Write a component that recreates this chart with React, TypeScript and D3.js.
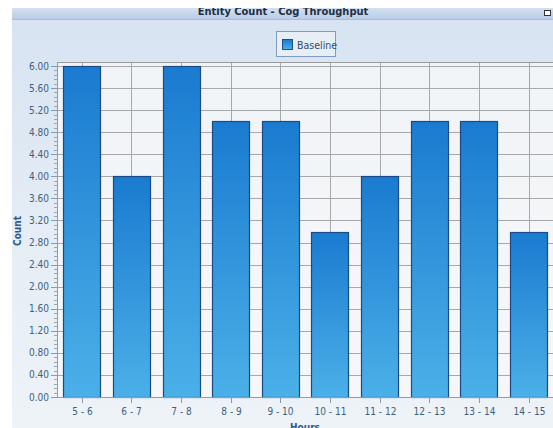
import React from "react";
import * as d3 from "d3";

const categories = ["5 - 6", "6 - 7", "7 - 8", "8 - 9", "9 - 10", "10 - 11", "11 - 12", "12 - 13", "13 - 14", "14 - 15"];
const baseline = [6, 4, 6, 5, 5, 3, 4, 5, 5, 3];
const yTicks = d3.range(0, 16).map((i) => +(i * 0.4).toFixed(2));
const yMinorTicks = d3.range(0, 76).map((i) => +(i * 0.08).toFixed(2));
const title = "Entity Count - Cog Throughput";
const seriesName = "Baseline";
const xTitle = "Hours";
const yTitle = "Count";

const W = 553, H = 428;
const plotL = 57, plotR = 553, plotB = 397;

export default function App() {
  const x = d3.scaleBand<string>().domain(categories).range([plotL, plotR + 0.5]).paddingInner(0.25).paddingOuter(0.125);
  const y = d3.scaleLinear().domain([0, 6]).range([plotB, 66]);
  const plotT = y(6) - 4;
  const font = "Tahoma, 'DejaVu Sans Condensed', 'DejaVu Sans', sans-serif";
  const labelColor = "#3d5f80";
  return (
    <svg width={W} height={H} style={{ position: "absolute", left: 0, top: 0, display: "block" }} fontFamily={font}>
      <defs>
        <linearGradient id="barG" x1="0" y1="0" x2="0" y2="1">
          <stop offset="0" stopColor="#1a7bd0" />
          <stop offset="1" stopColor="#4bb0e8" />
        </linearGradient>
        <linearGradient id="panelG" x1="0" y1="0" x2="0" y2="1">
          <stop offset="0" stopColor="#d6e3f2" />
          <stop offset="0.5" stopColor="#e4ecf5" />
          <stop offset="1" stopColor="#eef3f8" />
        </linearGradient>
        <linearGradient id="titleG" x1="0" y1="0" x2="0" y2="1">
          <stop offset="0" stopColor="#d3e0ef" />
          <stop offset="1" stopColor="#b9cde4" />
        </linearGradient>
        <linearGradient id="plotG" x1="0" y1="0" x2="0" y2="1">
          <stop offset="0" stopColor="#f1f4f7" />
          <stop offset="1" stopColor="#f6f7f9" />
        </linearGradient>
        <clipPath id="titleClip">
          <rect x={12} y={8} width={W - 12} height={11} />
        </clipPath>
      </defs>
      <rect x={0} y={0} width={W} height={H} fill="#ffffff" />
      <rect x={12} y={8} width={W - 12} height={H - 8} fill="url(#panelG)" />
      <rect x={12} y={8} width={W - 12} height={11} fill="url(#titleG)" />
      <line x1={12} x2={W} y1={19.5} y2={19.5} stroke="#a9bfd9" />
      <g clipPath="url(#titleClip)">
        <text x={283} y={15} textAnchor="middle" fontWeight="bold" fontSize={11} fill="#1f2f44">{title}</text>
      </g>
      <rect x={544.5} y={10.5} width={6} height={5} fill="#ffffff" stroke="#333" strokeWidth={1} />

      {/* legend */}
      <rect x={276.5} y={31.5} width={59} height={25} fill="#e7eef6" stroke="#7f9bbd" />
      <rect x={282.5} y={39.5} width={10} height={10} fill="url(#barG)" stroke="#1d4f8e" />
      <text x={297} y={48.5} fontSize={10.5} fill="#2c4d70">{seriesName}</text>

      {/* plot area */}
      <rect x={plotL} y={plotT} width={plotR - plotL} height={plotB - plotT} fill="url(#plotG)" />
      {yTicks.map((t) => (
        <line key={"g" + t} x1={plotL} x2={plotR} y1={Math.round(y(t)) + 0.5} y2={Math.round(y(t)) + 0.5} stroke="#a8a8a8" strokeWidth={1} />
      ))}
      {categories.map((c) => {
        const cx = Math.round(x(c)! + x.bandwidth() / 2) + 0.5;
        return <line key={"v" + c} x1={cx} x2={cx} y1={plotT} y2={plotB} stroke="#a8a8a8" strokeWidth={1} />;
      })}
      <line x1={plotL + 0.5} x2={plotL + 0.5} y1={plotT} y2={plotB} stroke="#9a9a9a" />
      <line x1={plotL} x2={plotR} y1={plotT + 0.5} y2={plotT + 0.5} stroke="#9a9a9a" />

      {/* bars */}
      {categories.map((c, i) => (
        <rect key={"b" + c} x={Math.round(x(c)!) + 0.5} y={Math.round(y(baseline[i])) + 0.5}
          width={Math.round(x.bandwidth())} height={Math.round(y(0)) - Math.round(y(baseline[i]))}
          fill="url(#barG)" stroke="#1b4a86" strokeWidth={1.2} />
      ))}
      <line x1={plotL} x2={plotR} y1={plotB + 0.5} y2={plotB + 0.5} stroke="#9a9a9a" />

      {/* y axis */}
      {yMinorTicks.map((t) => (
        <line key={"m" + t} x1={plotL - 3} x2={plotL} y1={Math.round(y(t)) + 0.5} y2={Math.round(y(t)) + 0.5} stroke="#9aa6b4" />
      ))}
      {yTicks.map((t) => (
        <g key={"yt" + t}>
          <line x1={plotL - 6} x2={plotL} y1={Math.round(y(t)) + 0.5} y2={Math.round(y(t)) + 0.5} stroke="#8c99a8" />
          <text x={plotL - 8} y={y(t) + 3.5} textAnchor="end" fontSize={10} fill={labelColor}>{t.toFixed(2)}</text>
        </g>
      ))}
      {/* x axis */}
      {categories.map((c) => {
        const cx = Math.round(x(c)! + x.bandwidth() / 2) + 0.5;
        return (
          <g key={"xt" + c}>
            <line x1={cx} x2={cx} y1={plotB} y2={plotB + 6} stroke="#8c99a8" />
            <text x={cx} y={plotB + 18} textAnchor="middle" fontSize={10} fill={labelColor}>{c}</text>
          </g>
        );
      })}
      <text x={305} y={431} textAnchor="middle" fontWeight="bold" fontSize={10} fill="#2c5b8c">{xTitle}</text>
      <text transform={`translate(21,231) rotate(-90)`} textAnchor="middle" fontWeight="bold" fontSize={10} fill="#2c5b8c">{yTitle}</text>
    </svg>
  );
}
